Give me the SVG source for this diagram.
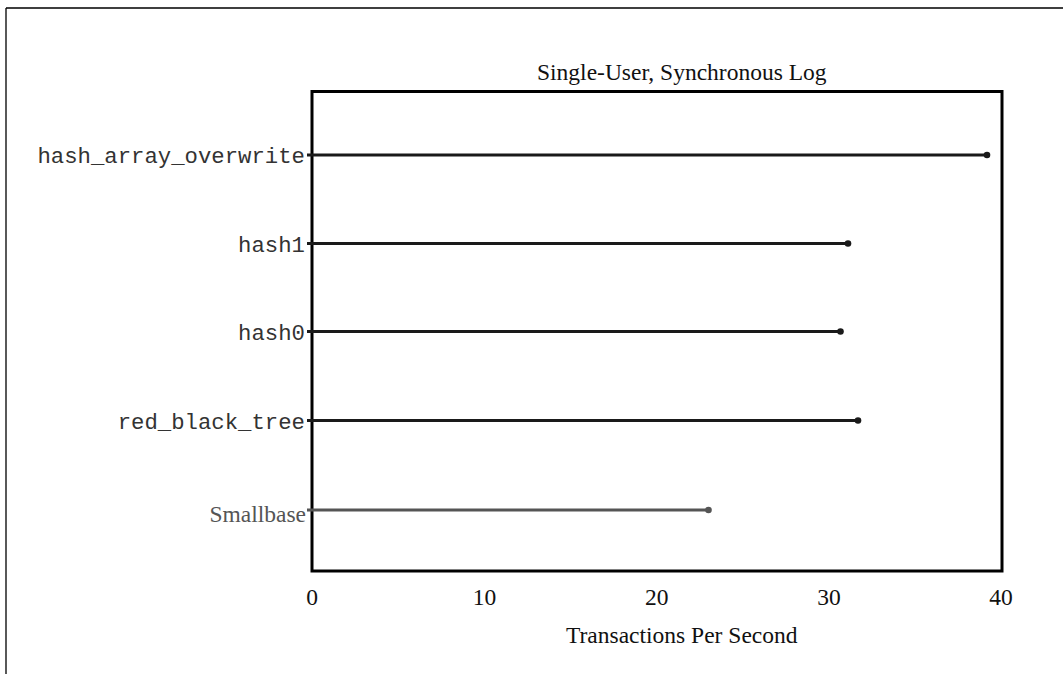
<svg xmlns="http://www.w3.org/2000/svg" width="1063" height="674" viewBox="0 0 1063 674">
<style>
.serif{font-family:"Liberation Serif","Times New Roman",serif;font-size:23.5px;fill:#111}
.mono{font-family:"Liberation Mono","Courier New",monospace;font-size:22.3px;fill:#333}
.bar{stroke:#1a1a1a;stroke-width:3;fill:none}
.dot{fill:#1a1a1a}
.frame{stroke:#000;stroke-width:1.3;fill:none}
</style>
<rect width="1063" height="674" fill="#fff"/>
<g id="frame">
<path class="frame" d="M6,8 H1063 M6,8 V674"/>
</g>
<g id="plot">
<rect x="312" y="91.5" width="690" height="479.5" fill="none" stroke="#000" stroke-width="3"/>
<text class="serif" x="537" y="80">Single-User, Synchronous Log</text>
</g>
<g id="axis">
<text class="serif" x="312" y="605" text-anchor="middle">0</text>
<text class="serif" x="484.5" y="605" text-anchor="middle">10</text>
<text class="serif" x="656.8" y="605" text-anchor="middle">20</text>
<text class="serif" x="829" y="605" text-anchor="middle">30</text>
<text class="serif" x="1001" y="605" text-anchor="middle">40</text>
<text class="serif" x="566" y="643">Transactions Per Second</text>
</g>
<g id="connectors">
<line class="bar" x1="307" y1="155" x2="987" y2="155"/>
<circle class="dot" cx="987" cy="155" r="3.3"/>
<line class="bar" x1="307" y1="243.5" x2="848" y2="243.5"/>
<circle class="dot" cx="848" cy="243.5" r="3.3"/>
<line class="bar" x1="307" y1="331.5" x2="840.5" y2="331.5"/>
<circle class="dot" cx="840.5" cy="331.5" r="3.3"/>
<line class="bar" x1="307" y1="420.5" x2="858" y2="420.5"/>
<circle class="dot" cx="858" cy="420.5" r="3.3"/>
<line x1="307" y1="510" x2="708.5" y2="510" stroke="#555" stroke-width="3"/>
<circle cx="708.5" cy="510" r="3.3" fill="#555"/>
</g>
<g id="node-hash_array_overwrite"><text class="mono" x="305" y="163" text-anchor="end">hash_array_overwrite</text></g>
<g id="node-hash1"><text class="mono" x="305" y="252" text-anchor="end">hash1</text></g>
<g id="node-hash0"><text class="mono" x="305" y="340" text-anchor="end">hash0</text></g>
<g id="node-red_black_tree"><text class="mono" x="305" y="429" text-anchor="end">red_black_tree</text></g>
<g id="node-smallbase"><text class="serif" x="306" y="521.5" text-anchor="end" style="fill:#555">Smallbase</text></g>
</svg>
